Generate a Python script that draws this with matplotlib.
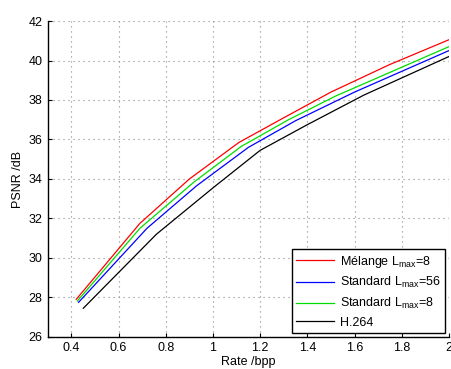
import numpy as np
import matplotlib
matplotlib.use('Agg')
import matplotlib.pyplot as plt

plt.rcParams['font.family'] = ['Liberation Sans', 'DejaVu Sans']
plt.rcParams['mathtext.fontset'] = 'custom'
plt.rcParams['mathtext.rm'] = 'Liberation Sans'

# rate (bpp) / PSNR (dB)
melange_rate = [0.42, 0.69, 0.90, 1.11, 1.30, 1.50, 1.75, 2.0]
melange_psnr = [27.9, 31.75, 34.0, 35.85, 37.1, 38.4, 39.8, 41.05]

std56_rate = [0.43, 0.72, 0.93, 1.15, 1.35, 1.60, 2.0]
std56_psnr = [27.75, 31.5, 33.65, 35.6, 36.95, 38.4, 40.5]

std8_rate = [0.425, 0.69, 0.92, 1.12, 1.32, 1.52, 2.0]
std8_psnr = [27.82, 31.5, 33.85, 35.65, 37.0, 38.2, 40.7]

h264_rate = [0.45, 0.76, 1.0, 1.2, 1.40, 1.64, 2.0]
h264_psnr = [27.45, 31.2, 33.55, 35.45, 36.75, 38.25, 40.2]

labels = ['Mélange L$_{\\mathrm{max}}$=8', 'Standard L$_{\\mathrm{max}}$=56',
          'Standard L$_{\\mathrm{max}}$=8', 'H.264']

fig = plt.figure(figsize=(4.52, 3.69), dpi=100)
ax = fig.add_axes([0.106, 0.087, 0.887, 0.856])

ax.plot(melange_rate, melange_psnr, color='#ff0000', lw=0.9, label=labels[0])
ax.plot(std56_rate, std56_psnr, color='#0000ff', lw=0.9, label=labels[1])
ax.plot(std8_rate, std8_psnr, color='#00dd00', lw=0.9, label=labels[2])
ax.plot(h264_rate, h264_psnr, color='black', lw=0.9, label=labels[3])

ax.set_xlim(0.3, 2.0)
ax.set_ylim(26, 42)
ax.set_xticks([0.4, 0.6, 0.8, 1, 1.2, 1.4, 1.6, 1.8, 2])
ax.set_xticklabels(['0.4', '0.6', '0.8', '1', '1.2', '1.4', '1.6', '1.8', '2'])
ax.set_yticks(np.arange(26, 43, 2))
ax.tick_params(direction='in', labelsize=9, length=3, width=0.8, pad=4)
ax.spines['top'].set_visible(False)
ax.spines['right'].set_visible(False)
for s in ['left', 'bottom']:
    ax.spines[s].set_linewidth(1.0)
ax.grid(True, linestyle=(0, (1, 3.5)), color='#888888', lw=0.8)
ax.set_xlabel('Rate /bpp', fontsize=9, labelpad=1)
ax.set_ylabel('PSNR /dB', fontsize=9, labelpad=3)

leg = ax.legend(loc='lower right', fontsize=9, fancybox=False, framealpha=1,
                edgecolor='black', borderaxespad=0.3, handlelength=3.0,
                labelspacing=0.45, borderpad=0.35, handletextpad=0.5)
leg.get_frame().set_linewidth(1.0)

fig.savefig('out.png', dpi=100)
